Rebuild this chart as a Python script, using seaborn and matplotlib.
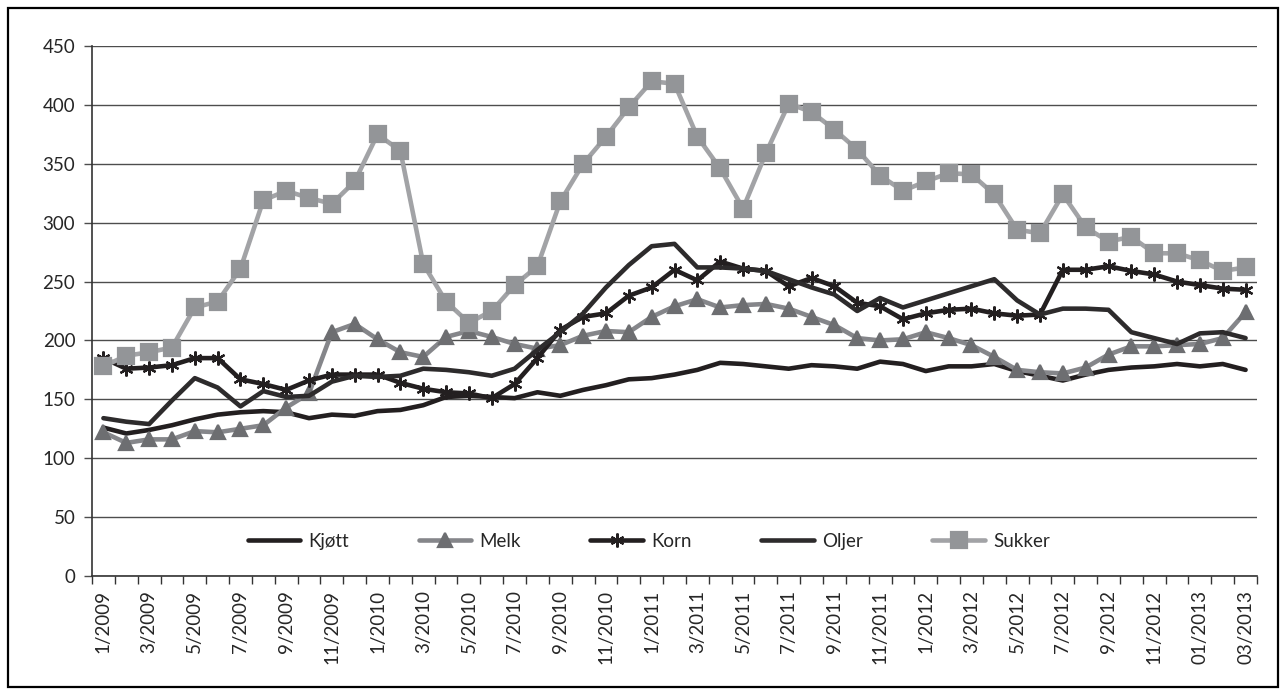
import numpy as np
import pandas as pd
import matplotlib
matplotlib.use("Agg")
import matplotlib.pyplot as plt
import seaborn as sns
from matplotlib.patches import Rectangle

# Monthly food price indices, 1/2009 - 03/2013
months = ['1/2009', '2/2009', '3/2009', '4/2009', '5/2009', '6/2009', '7/2009', '8/2009',
          '9/2009', '10/2009', '11/2009', '12/2009',
          '1/2010', '2/2010', '3/2010', '4/2010', '5/2010', '6/2010', '7/2010', '8/2010',
          '9/2010', '10/2010', '11/2010', '12/2010',
          '1/2011', '2/2011', '3/2011', '4/2011', '5/2011', '6/2011', '7/2011', '8/2011',
          '9/2011', '10/2011', '11/2011', '12/2011',
          '1/2012', '2/2012', '3/2012', '4/2012', '5/2012', '6/2012', '7/2012', '8/2012',
          '9/2012', '10/2012', '11/2012', '12/2012',
          '01/2013', '02/2013', '03/2013']

kjott = [126, 121, 124, 128, 133, 137, 139, 140, 139, 134, 137, 136,
         140, 141, 145, 152, 153, 152, 151, 156, 153, 158, 162, 167,
         168, 171, 175, 181, 180, 178, 176, 179, 178, 176, 182, 180,
         174, 178, 178, 180, 174, 170, 166, 171, 175, 177, 178, 180,
         178, 180, 175]
melk = [122, 113, 116, 116, 123, 122, 125, 128, 143, 155, 207, 214,
        201, 190, 186, 203, 208, 203, 197, 193, 196, 204, 208, 207,
        220, 229, 235, 228, 230, 231, 227, 220, 213, 202, 200, 201,
        207, 202, 196, 186, 175, 173, 172, 177, 188, 195, 195, 196,
        197, 202, 224]
korn = [185, 176, 177, 179, 185, 185, 167, 163, 158, 166, 171, 171,
        171, 164, 159, 156, 155, 151, 163, 185, 209, 220, 223, 238,
        245, 260, 251, 267, 261, 259, 246, 253, 246, 232, 229, 218,
        223, 226, 227, 223, 221, 222, 260, 260, 263, 259, 256, 250,
        247, 244, 243]
oljer = [134, 131, 129, 149, 168, 160, 144, 157, 152, 153, 165, 170,
         169, 170, 176, 175, 173, 170, 176, 192, 207, 223, 245, 264,
         280, 282, 262, 262, 261, 259, 252, 245, 239, 225, 236, 228,
         234, 240, 246, 252, 234, 222, 227, 227, 226, 207, 202, 197,
         206, 207, 202]
sukker = [178, 187, 190, 194, 228, 233, 261, 319, 327, 321, 316, 335,
          375, 361, 265, 233, 215, 225, 247, 263, 318, 350, 373, 398,
          420, 418, 373, 346, 312, 359, 401, 394, 379, 362, 340, 327,
          335, 342, 341, 324, 294, 291, 324, 296, 284, 288, 274, 274,
          268, 259, 262]

sns.set_style("white")
plt.rcParams['font.family'] = ['Lato', 'DejaVu Sans']

fig = plt.figure(figsize=(12.86, 6.95), dpi=100)
ax = fig.add_axes([92 / 1286, 119 / 695, 1165 / 1286, 530 / 695])

x = np.arange(len(months))
series = [
    ('Kjøtt', kjott, '#231f20', '#231f20', None),
    ('Melk', melk, '#85868a', '#6d6e71', '^'),
    ('Korn', korn, '#231f20', '#231f20', (6, 2, 0)),
    ('Oljer', oljer, '#2d2b2c', '#2d2b2c', None),
    ('Sukker', sukker, '#a2a3a6', '#939598', 's'),
]
for name, vals, lc, mc, mk in series:
    df = pd.DataFrame({'x': x, 'y': vals})
    kw = dict(marker=mk, markersize=10, markerfacecolor=mc, markeredgecolor=mc,
              markeredgewidth=1.6) if mk is not None else {}
    if mk == 's':
        kw['markersize'] = 11
    sns.lineplot(data=df, x='x', y='y', ax=ax, color=lc, linewidth=3.3,
                 label=name, **kw)

ax.set_xlim(-0.5, len(months) - 0.5)
ax.set_ylim(0, 450)
ax.set_yticks(np.arange(0, 451, 50))
ax.yaxis.grid(True, color='#4d4d4d', linewidth=1.0)
ax.set_axisbelow(True)
ax.set_xlabel('')
ax.set_ylabel('')

ax.set_xticks(x[::2])
ax.set_xticklabels(months[::2], rotation=90, fontsize=13.5)
ax.set_xticks(np.arange(-0.5, len(months), 1), minor=True)
ax.tick_params(axis='x', which='major', length=0, pad=10)
ax.tick_params(axis='x', which='minor', length=6, width=1, color='#333333', direction='out')
ax.tick_params(axis='y', length=6, width=1, color='#4d4d4d', direction='out', labelsize=13.5, pad=6)
ax.yaxis.set_ticks_position('left')
ax.xaxis.set_ticks_position('bottom')

for side in ['top', 'right']:
    ax.spines[side].set_visible(False)
for side in ['left', 'bottom']:
    ax.spines[side].set_color('#333333')
    ax.spines[side].set_linewidth(1.2)

ax.legend(loc='center', bbox_to_anchor=(0.478, 0.066), ncol=5, frameon=False,
          fontsize=13.5, handlelength=2.8, handletextpad=0.45, columnspacing=3.7)

fig.patches.append(Rectangle((8 / 1286, 8 / 695), 1270 / 1286, 679 / 695,
                             transform=fig.transFigure, fill=False,
                             edgecolor='black', linewidth=1.6))

fig.savefig('out.png', dpi=100)
